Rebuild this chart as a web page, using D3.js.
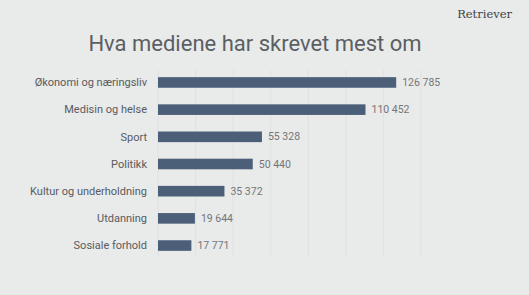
<!DOCTYPE html>
<html>
<head>
<meta charset="utf-8">
<script src="https://cdn.jsdelivr.net/npm/d3@7"></script>
<style>
  html, body { margin: 0; padding: 0; background: #e9eaea; }
  svg { display: block; font-family: Roboto, sans-serif; }
</style>
</head>
<body>
<script>
const width = 529;
const height = 295;

// Data
const categories = ["Økonomi og næringsliv", "Medisin og helse", "Sport", "Politikk",
  "Kultur og underholdning", "Utdanning", "Sosiale forhold"];
const values = [126785, 110452, 55328, 50440, 35372, 19644, 17771];
const gridTicks = [0, 20000, 40000, 60000, 80000, 100000, 120000, 140000];

const rows = categories.map((c, i) => ({name: c, value: values[i]}));

const svg = d3.select("body")
  .append("svg")
  .attr("width", width)
  .attr("height", height)
  .attr("viewBox", [0, 0, width, height]);

svg.append("rect").attr("width", width).attr("height", height).attr("fill", "#e9eaea");

const x = d3.scaleLinear()
  .domain([0, 140000])
  .range([158, 421]);

const y = d3.scaleBand()
  .domain(categories)
  .range([69, 259])
  .paddingInner(0.61)
  .paddingOuter(0.3);

// Vertical gridlines
svg.append("g")
  .selectAll("line")
  .data(gridTicks)
  .join("line")
  .attr("x1", d => x(d))
  .attr("x2", d => x(d))
  .attr("y1", 70)
  .attr("y2", 256)
  .attr("stroke", "#e0e1e1")
  .attr("stroke-width", 1);

// Title
svg.append("text")
  .attr("x", 255)
  .attr("y", 51)
  .attr("text-anchor", "middle")
  .attr("font-size", 22)
  .attr("fill", "#5b5f63")
  .text("Hva mediene har skrevet mest om");

// Logo
svg.append("text")
  .attr("x", 512)
  .attr("y", 18)
  .attr("text-anchor", "end")
  .attr("font-family", "'DejaVu Serif', serif")
  .attr("font-size", 11.5)
  .attr("fill", "#444")
  .text("Retriever");

// Bars
svg.append("g")
  .selectAll("rect")
  .data(rows)
  .join("rect")
  .attr("x", x(0))
  .attr("y", d => y(d.name))
  .attr("width", d => x(d.value) - x(0))
  .attr("height", y.bandwidth())
  .attr("fill", "#4b5f79");

// Category labels
svg.append("g")
  .selectAll("text")
  .data(rows)
  .join("text")
  .attr("x", 147)
  .attr("y", d => y(d.name) + y.bandwidth() / 2)
  .attr("dy", "0.35em")
  .attr("text-anchor", "end")
  .attr("font-size", 11)
  .attr("fill", "#585b5e")
  .text(d => d.name);

// Value labels
const fmt = v => d3.format(",")(v).replace(/,/g, " ");
svg.append("g")
  .selectAll("text")
  .data(rows)
  .join("text")
  .attr("x", d => x(d.value) + 6)
  .attr("y", d => y(d.name) + y.bandwidth() / 2)
  .attr("dy", "0.35em")
  .attr("font-size", 10.5)
  .attr("fill", "#737679")
  .text(d => fmt(d.value));
</script>
</body>
</html>
